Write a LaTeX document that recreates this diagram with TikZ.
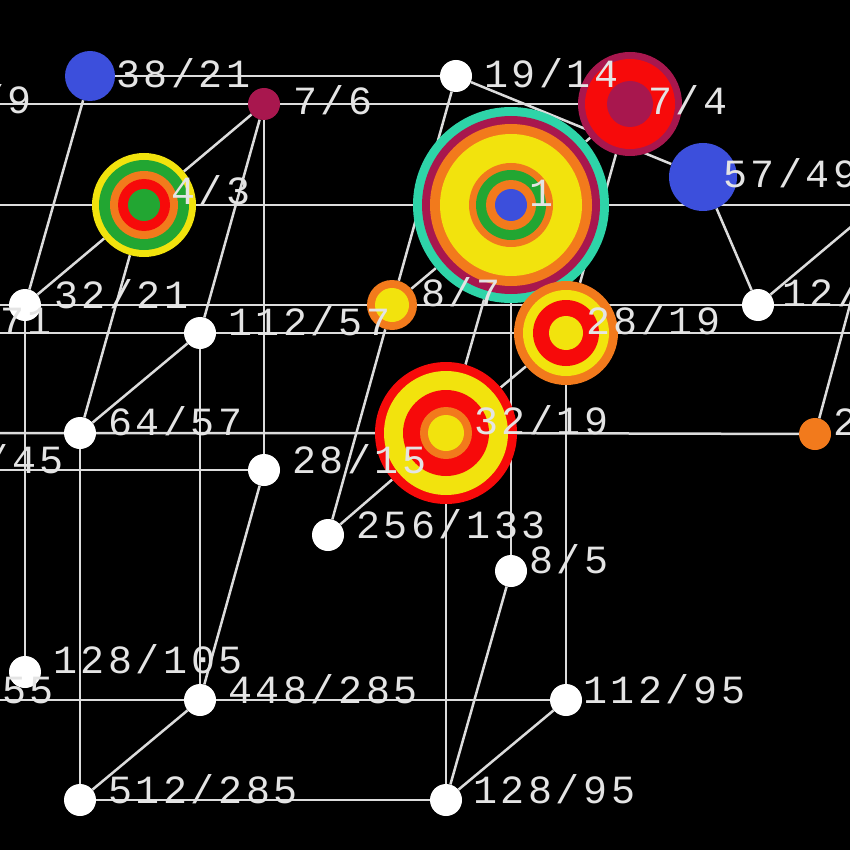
\documentclass[tikz,border=0pt]{standalone}
\usepackage{fontspec}
\usepackage{xcolor}
\usepackage{tikz}
\usetikzlibrary{positioning}
\definecolor{ringblue}{HTML}{3C4FDC}
\definecolor{ringmaroon}{HTML}{A8174E}
\definecolor{ringred}{HTML}{F70A0A}
\definecolor{ringorange}{HTML}{F27A1C}
\definecolor{ringyellow}{HTML}{F2E30D}
\definecolor{ringgreen}{HTML}{22A632}
\definecolor{ringteal}{HTML}{2ED4A8}
\definecolor{edgegray}{HTML}{DCDCDC}
\definecolor{labelgray}{HTML}{E4E4E4}
\newfontfamily\ratiofam[LetterSpace=9]{Liberation Mono}
\newcommand\ratiofont{\ratiofam\fontsize{40pt}{40pt}\selectfont}
\pgfdeclarelayer{bg}
\pgfdeclarelayer{edges}
\pgfsetlayers{bg,edges,main}

\begin{document}
\begin{tikzpicture}[x=1pt, y=-1pt,
    dot/.style={circle, fill=white, minimum size=32pt, inner sep=0pt},
    disc/.style={circle, inner sep=0pt},
    link/.style={draw=edgegray, line width=2.5pt},
    ratio/.style={font=\ratiofont, text=labelgray, inner sep=0pt, anchor=base west},
]
\useasboundingbox (0,0) rectangle (850,850);
\begin{pgfonlayer}{bg}
\fill[black] (0,0) rectangle (850,850);
\end{pgfonlayer}

% top rows
\node[disc, fill=ringblue, minimum size=50pt] (r3821) at (90,76) {};
\node[dot] (r1914) at (456,76) {};
\node[disc, fill=ringmaroon, minimum size=32pt] (r76) at (264,104) {};
\node[disc, fill=ringmaroon, minimum size=104pt] (r74) at (630,104) {};
\fill[ringred] (r74) circle (45pt);
\fill[ringmaroon] (r74) circle (23pt);
\node[disc, fill=ringblue, minimum size=68pt] (r5749) at (703,177) {};

\node[disc, fill=ringyellow, minimum size=104pt] (r43) at (144,205) {};
\fill[ringgreen] (r43) circle (45pt);
\fill[ringorange] (r43) circle (34pt);
\fill[ringred] (r43) circle (26pt);
\fill[ringgreen] (r43) circle (16pt);
\node[disc, fill=ringteal, minimum size=196pt] (r1) at (511,205) {};
\fill[ringmaroon] (r1) circle (89pt);
\fill[ringorange] (r1) circle (81pt);
\fill[ringyellow] (r1) circle (71pt);
\fill[ringorange] (r1) circle (42pt);
\fill[ringgreen] (r1) circle (35pt);
\fill[ringorange] (r1) circle (25pt);
\fill[ringblue] (r1) circle (16pt);

% middle rows
\node[dot] (r3221) at (25,305) {};
\node[disc, fill=ringorange, minimum size=50pt] (r87) at (392,305) {};
\fill[ringyellow] (r87) circle (17pt);
\node[dot] (r127) at (758,305) {};
\node[dot] (r11257) at (200,333) {};
\node[disc, fill=ringorange, minimum size=104pt] (r2819) at (566,333) {};
\fill[ringyellow] (r2819) circle (43pt);
\fill[ringred] (r2819) circle (33pt);
\fill[ringyellow] (r2819) circle (17pt);

\node[dot] (r6457) at (80,433) {};
\node[disc, fill=ringred, minimum size=142pt] (r3219) at (446,433) {};
\fill[ringyellow] (r3219) circle (62pt);
\fill[ringred] (r3219) circle (43pt);
\fill[ringorange] (r3219) circle (26pt);
\fill[ringyellow] (r3219) circle (18pt);
\node[disc, fill=ringorange, minimum size=32pt] (r2419) at (815,434) {};
\node[dot] (r2815) at (264,470) {};
\node[dot] (r256133) at (328,535) {};
\node[dot] (r85) at (511,571) {};

% bottom rows
\node[dot] (r128105) at (25,672) {};
\node[dot] (r448285) at (200,700) {};
\node[dot] (r11295) at (566,700) {};
\node[dot] (r512285) at (80,800) {};
\node[dot] (r12895) at (446,800) {};

% off the edges
\coordinate (r149) at (-102,104);
\coordinate (r169) at (-221,205);
\coordinate (r32) at (877,205);
\coordinate (r6463) at (-341,305);
\coordinate (r97) at (1124,305);
\coordinate (r224171) at (-166,333);
\coordinate (r2119) at (932,333);
\coordinate (r256171) at (-286,433);
\coordinate (r5645) at (-102,470);
\coordinate (r896855) at (-166,700);

\begin{pgfonlayer}{edges}
% horizontal
\draw[link] (r149) -- (r76) -- (r74);
\draw[link] (r3821) -- (r1914);
\draw[link] (r169) -- (r43) -- (r1) -- (r32);
\draw[link] (r6463) -- (r3221) -- (r87) -- (r127) -- (r97);
\draw[link] (r224171) -- (r11257) -- (r2819) -- (r2119);
\draw[link] (r256171) -- (r6457) -- (r3219) -- (r2419);
\draw[link] (r5645) -- (r2815);
\draw[link] (r896855) -- (r448285) -- (r11295);
\draw[link] (r512285) -- (r12895);
% vertical
\draw[link] (r3221) -- (r128105);
\draw[link] (r6457) -- (r512285);
\draw[link] (r11257) -- (r448285);
\draw[link] (r76) -- (r2815);
\draw[link] (r3219) -- (r12895);
\draw[link] (r1) -- (r85);
\draw[link] (r2819) -- (r11295);
% steep
\draw[link] (r3821) -- (r3221);
\draw[link] (r43) -- (r6457);
\draw[link] (r76) -- (r11257);
\draw[link] (r1914) -- (r87);
\draw[link] (r1) -- (r3219);
\draw[link] (r74) -- (r2819);
\draw[link] (r87) -- (r256133);
\draw[link] (r2815) -- (r448285);
\draw[link] (r85) -- (r12895);
\draw[link] (r32) -- (r2419);
% rising
\draw[link] (r3221) -- (r43) -- (r76);
\draw[link] (r6457) -- (r11257);
\draw[link] (r87) -- (r1) -- (r74);
\draw[link] (r256133) -- (r3219) -- (r2819);
\draw[link] (r512285) -- (r448285);
\draw[link] (r12895) -- (r11295);
\draw[link] (r127) -- (r32);
\draw[link] (r1914) -- (r5749) -- (r127);
\end{pgfonlayer}

% ratios
\node[ratio] (t3821) at (116,88) {38/21};
\node[ratio] (t76) at (293,115) {7/6};
\node[ratio] (t1914) at (484,88) {19/14};
\node[ratio] (t74) at (648,115) {7/4};
\node[ratio] (t5749) at (723,188) {57/49};
\node[ratio] (t43) at (171,205) {4/3};
\node[ratio] (t1) at (529,207) {1};
\node[ratio] (t3221) at (54,308) {32/21};
\node[ratio] (t87) at (421,306) {8/7};
\node[ratio] (t127) at (782,306) {12/7};
\node[ratio] (t11257) at (228,335) {112/57};
\node[ratio] (t2819) at (586,334) {28/19};
\node[ratio] (t6457) at (108,435) {64/57};
\node[ratio] (t3219) at (474,434) {32/19};
\node[ratio] (t2419) at (833,435) {24/19};
\node[ratio] (t2815) at (292,473) {28/15};
\node[ratio] (t256133) at (356,538) {256/133};
\node[ratio] (t85) at (529,573) {8/5};
\node[ratio] (t128105) at (53,673) {128/105};
\node[ratio] (t448285) at (228,703) {448/285};
\node[ratio] (t11295) at (583,703) {112/95};
\node[ratio] (t512285) at (108,803) {512/285};
\node[ratio] (t12895) at (473,803) {128/95};
\node[ratio, anchor=base east] (t149) at (32,114) {14/9};
\node[ratio, anchor=base east] (t224171) at (52,334) {224/171};
\node[ratio, anchor=base east] (t5645) at (64,473) {56/45};
\node[ratio, anchor=base east] (t896855) at (54,703) {896/855};
\end{tikzpicture}
\end{document}
